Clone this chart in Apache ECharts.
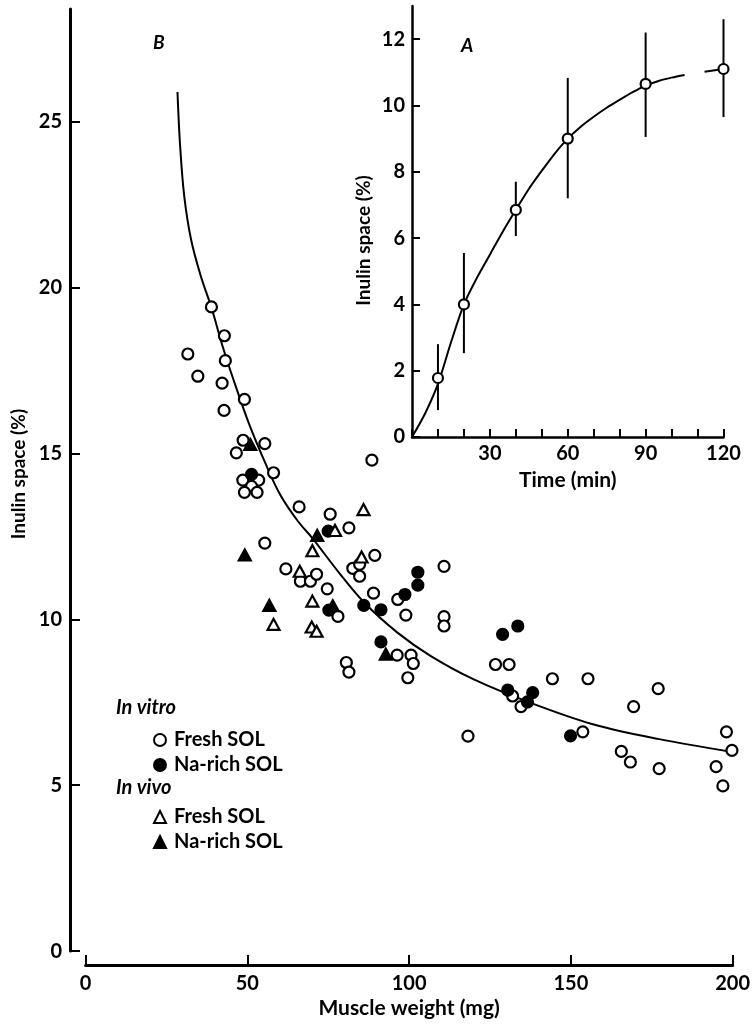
<!DOCTYPE html>
<html>
<head>
<meta charset="utf-8">
<title>Inulin space</title>
<script src="https://cdn.jsdelivr.net/npm/echarts@6/dist/echarts.min.js"></script>
<style>
html, body { margin: 0; padding: 0; background: #fff; }
#chart { width: 753px; height: 1024px; }
</style>
</head>
<body>
<div id="chart"></div>
<script>
// B: muscle weight (mg) against inulin space (%)
var vitroFresh = [
	[31.6, 18.0], [34.7, 17.33], [38.9, 19.42], [42.2, 17.12], [42.8, 16.3], [42.9, 18.55],
	[43.2, 17.8], [49.1, 16.63], [48.7, 15.4], [46.6, 15.02], [55.4, 15.3], [58.1, 14.42],
	[48.6, 14.2], [53.5, 14.2], [51.3, 14.01], [49.1, 13.83], [53.0, 13.83], [55.4, 12.3],
	[66.0, 13.39], [75.6, 13.17], [81.4, 12.76], [88.5, 14.8], [89.4, 11.93], [82.6, 11.54],
	[84.7, 11.66], [84.7, 11.3], [61.9, 11.52], [66.4, 11.15], [69.5, 11.15], [71.4, 11.36],
	[74.7, 10.92], [78.0, 10.09], [89.0, 10.79], [96.5, 10.6], [99.0, 10.13], [110.8, 11.6],
	[110.8, 10.08], [110.8, 9.8], [80.6, 8.7], [81.4, 8.41], [96.3, 8.92], [100.6, 8.92],
	[101.3, 8.67], [99.6, 8.24], [118.2, 6.48], [126.7, 8.64], [130.9, 8.64], [132.0, 7.69],
	[134.6, 7.37], [144.3, 8.21], [155.3, 8.21], [153.7, 6.61], [165.6, 6.02], [168.4, 5.7],
	[169.4, 7.37], [177.0, 7.91], [177.3, 5.5], [194.9, 5.56], [197.0, 4.98], [198.1, 6.61],
	[199.8, 6.05]
];
var vitroNaRich = [
	[51.3, 14.37], [75.0, 12.66], [75.2, 10.28], [86.0, 10.42], [91.3, 10.29], [98.7, 10.75],
	[102.7, 11.42], [102.7, 11.03], [91.3, 9.32], [128.9, 9.55], [133.6, 9.8], [130.5, 7.87],
	[138.2, 7.79], [136.6, 7.51], [149.9, 6.49]
];
var vivoFresh = [
	[85.9, 13.31], [77.1, 12.68], [70.1, 12.07], [85.3, 11.88], [66.2, 11.45], [70.1, 10.55],
	[58.1, 9.85], [69.9, 9.77], [71.4, 9.64]
];
var vivoNaRich = [
	[50.9, 15.27], [49.2, 11.94], [56.8, 10.42], [71.6, 12.53], [76.4, 10.41], [92.8, 8.95]
];
var weightCurve = [
	[28.4, 25.9], [29.2, 24.3], [30.5, 22.75], [32.6, 21.45], [35.6, 20.35], [38.9, 19.4],
	[42.3, 18.25], [45.8, 17.2], [50.5, 15.9], [55.6, 14.7], [60.2, 13.75], [65.7, 12.95],
	[70.1, 12.45], [78.0, 11.45], [86.2, 10.5], [96.4, 9.6], [106.6, 8.9], [120.0, 8.19],
	[137.4, 7.49], [156.8, 6.84], [177.3, 6.39], [199.0, 6.02]
];
var weightTicks = [0, 50, 100, 150, 200];
var spaceTicks = [0, 5, 10, 15, 20, 25];

// A: time course
var timeMin = [10, 20, 40, 60, 90, 120];
var timeMean = [1.78, 4.0, 6.85, 9.0, 10.65, 11.1];
var timeLow = [0.81, 2.53, 6.06, 7.2, 9.05, 9.65];
var timeHigh = [2.8, 5.55, 7.7, 10.83, 12.2, 12.6];
var curveTime = [0, 5, 10, 15, 20, 25, 30, 35, 40, 45, 50, 55, 60, 65, 70, 75, 80, 85, 90, 95, 100, 105];
var curveSpace = [0, 0.7, 1.6, 2.85, 4.0, 4.8, 5.5, 6.2, 6.85, 7.48, 8.03, 8.55, 9.0, 9.36, 9.66, 9.93, 10.17, 10.4, 10.6, 10.74, 10.84, 10.92];
var curveEndTime = [112.7, 120];
var curveEndSpace = [11.02, 11.1];
var timeLabels = [30, 60, 90, 120];
var insetTicks = [0, 2, 4, 6, 8, 10, 12];

var FONT = 'Lato';
var INK = '#000';

function labelStyle(extra)
{
	var s = { color: INK, fontFamily: FONT, fontWeight: 'bold', fontSize: 20 };
	for(var k in extra)
		s[k] = extra[k];
	return s;
}

function pairs(xs, ys)
{
	var re = [];
	for(var i=0; i<xs.length; i++)
		re.push([xs[i], ys[i]]);
	return re;
}

function scatter(name, data, symbol, filled, size)
{
	return {
		name: name,
		type: 'scatter',
		xAxisIndex: 0,
		yAxisIndex: 0,
		data: data,
		symbol: symbol,
		symbolSize: size,
		itemStyle: { color: (filled ? INK : '#fff'), borderColor: INK, borderWidth: 2.2, opacity: 1 },
		z: 3
	};
}

function legendFor(top, names)
{
	return {
		orient: 'vertical',
		left: 153,
		top: top,
		padding: 0,
		itemGap: 5,
		itemWidth: 12,
		itemHeight: 12,
		selectedMode: false,
		data: names,
		formatter: function(name) { return name.split('|')[1]; },
		textStyle: labelStyle({ fontSize: 20, lineHeight: 20, padding: [0, 0, 0, 3] })
	};
}

var errorData = [];
for(var i=0; i<timeMin.length; i++)
	errorData.push([timeMin[i], timeLow[i], timeHigh[i]]);

var chart = echarts.init(document.getElementById('chart'));

chart.setOption({
	animation: false,
	backgroundColor: '#fff',
	title: [
		{ text: 'B', left: 153, top: 33, padding: 0, textStyle: labelStyle({ fontSize: 19, fontStyle: 'italic' }) },
		{ text: 'A', left: 461, top: 36, padding: 0, textStyle: labelStyle({ fontSize: 19, fontStyle: 'italic' }) },
		{ text: 'In vitro', left: 116, top: 698, padding: 0, textStyle: labelStyle({ fontSize: 20, fontStyle: 'italic' }) },
		{ text: 'In vivo', left: 116, top: 778, padding: 0, textStyle: labelStyle({ fontSize: 20, fontStyle: 'italic' }) }
	],
	legend: [
		legendFor(730, ['In vitro|Fresh SOL', 'In vitro|Na-rich SOL']),
		legendFor(807, ['In vivo|Fresh SOL', 'In vivo|Na-rich SOL'])
	],
	grid: [
		{ left: 85.6, right: 16, top: 9, bottom: 72 },
		{ left: 412, right: 29.5, top: 6, bottom: 587 }
	],
	xAxis: [
		{
			type: 'value', gridIndex: 0, min: 0, max: 200, interval: 50, offset: 14,
			axisLine: { onZero: false, lineStyle: { color: INK, width: 3 } },
			axisTick: { inside: true, length: 10, lineStyle: { color: INK, width: 2 } },
			axisLabel: labelStyle({ margin: 8, customValues: weightTicks }),
			splitLine: { show: false },
			name: 'Muscle weight (mg)', nameLocation: 'middle', nameGap: 31,
			nameTextStyle: labelStyle({ fontSize: 21 })
		},
		{
			type: 'value', gridIndex: 1, min: 0, max: 120, interval: 10,
			axisLine: { onZero: false, lineStyle: { color: INK, width: 2.5 } },
			axisTick: { inside: true, length: 8, lineStyle: { color: INK, width: 2 } },
			axisLabel: labelStyle({ margin: 7, customValues: timeLabels }),
			splitLine: { show: false },
			name: 'Time (min)', nameLocation: 'middle', nameGap: 33,
			nameTextStyle: labelStyle({ fontSize: 21 })
		}
	],
	yAxis: [
		{
			type: 'value', gridIndex: 0, min: 0, max: 28.4, offset: 15.6,
			axisLine: { show: true, onZero: false, lineStyle: { color: INK, width: 3 } },
			axisTick: { show: true, inside: true, length: 10, customValues: spaceTicks, lineStyle: { color: INK, width: 2 } },
			axisLabel: labelStyle({ margin: 8, customValues: spaceTicks }),
			splitLine: { show: false },
			name: 'Inulin space (%)', nameLocation: 'middle', nameGap: 42,
			nameTextStyle: labelStyle({ fontSize: 19, padding: [0, 0, 0, 12] })
		},
		{
			type: 'value', gridIndex: 1, min: 0, max: 13,
			axisLine: { show: true, onZero: false, lineStyle: { color: INK, width: 2.5 } },
			axisTick: { show: true, inside: true, length: 8, customValues: insetTicks, lineStyle: { color: INK, width: 2 } },
			axisLabel: labelStyle({ margin: 7, customValues: insetTicks }),
			splitLine: { show: false },
			name: 'Inulin space (%)', nameLocation: 'middle', nameGap: 39,
			nameTextStyle: labelStyle({ fontSize: 19, padding: [0, 38, 0, 0] })
		}
	],
	series: [
		{
			type: 'line', xAxisIndex: 0, yAxisIndex: 0, data: weightCurve,
			showSymbol: false, smooth: 0.35,
			lineStyle: { color: INK, width: 2 }, z: 1, silent: true
		},
		scatter('In vitro|Fresh SOL', vitroFresh, 'circle', false, 11),
		scatter('In vitro|Na-rich SOL', vitroNaRich, 'circle', true, 11),
		scatter('In vivo|Fresh SOL', vivoFresh, 'triangle', false, [12, 11]),
		scatter('In vivo|Na-rich SOL', vivoNaRich, 'triangle', true, [12, 11]),
		{
			type: 'line', xAxisIndex: 1, yAxisIndex: 1, data: pairs(curveTime, curveSpace),
			showSymbol: false, smooth: 0.3,
			lineStyle: { color: INK, width: 2 }, z: 1, silent: true
		},
		{
			type: 'line', xAxisIndex: 1, yAxisIndex: 1, data: pairs(curveEndTime, curveEndSpace),
			showSymbol: false, lineStyle: { color: INK, width: 2 }, z: 1, silent: true
		},
		{
			type: 'custom', xAxisIndex: 1, yAxisIndex: 1, data: errorData,
			encode: { x: 0, y: [1, 2] }, z: 2, silent: true,
			renderItem: function(params, api)
			{
				var lo = api.coord([api.value(0), api.value(1)]);
				var hi = api.coord([api.value(0), api.value(2)]);
				return {
					type: 'line',
					shape: { x1: lo[0], y1: lo[1], x2: hi[0], y2: hi[1] },
					style: { stroke: INK, lineWidth: 2 }
				};
			}
		},
		{
			type: 'scatter', xAxisIndex: 1, yAxisIndex: 1, data: pairs(timeMin, timeMean),
			symbol: 'circle', symbolSize: 10,
			itemStyle: { color: '#fff', borderColor: INK, borderWidth: 2.2, opacity: 1 }, z: 3
		}
	]
});
</script>
</body>
</html>
